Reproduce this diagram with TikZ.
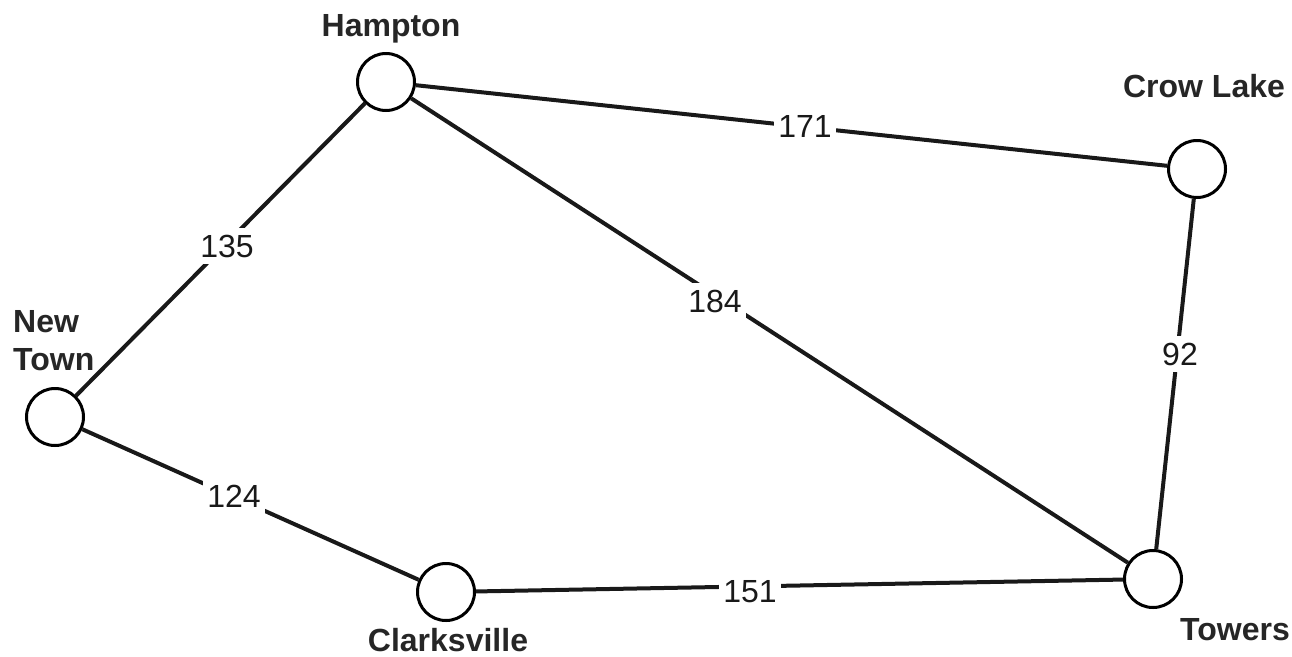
\documentclass[tikz,border=0pt]{standalone}
\usepackage{fontspec}
\setmainfont{Liberation Sans}
\begin{document}
\begin{tikzpicture}[x=1pt,y=-1pt,
  town/.style={circle,draw=black,line width=3pt,minimum size=57pt,inner sep=0pt,fill=white},
  road/.style={line width=4pt,draw=black!90},
  place/.style={font=\fontsize{32}{36}\selectfont\bfseries,text=black!85,inner sep=0pt,anchor=base},
  dist/.style={font=\fontsize{32}{36}\selectfont,text=black!90,fill=white,inner xsep=0pt,inner ysep=7pt,anchor=base,minimum width=62pt}]
\useasboundingbox[fill=white] (0,0) rectangle (1292,656);
\node[town] (ham) at (386,82) {};
\node[town] (crow) at (1197,169) {};
\node[town] (new) at (55,417) {};
\node[town] (clk) at (446,592) {};
\node[town] (tow) at (1153,579) {};
\draw[road] (ham) -- (crow);
\draw[road] (ham) -- (new);
\draw[road] (ham) -- (tow);
\draw[road] (crow) -- (tow);
\draw[road] (new) -- (clk);
\draw[road] (clk) -- (tow);
\node[dist] (d171) at (805,137) {171};
\node[dist] (d135) at (227,257) {135};
\node[dist] (d184) at (715,312) {184};
\node[dist,minimum width=44pt] (d92) at (1180,365) {92};
\node[dist] (d124) at (234,507) {124};
\node[dist] (d151) at (750,602) {151};
\node[place] (lham) at (391,36) {Hampton};
\node[place] (lcrow) at (1204,97) {Crow Lake};
\node[place,anchor=base west] (lnew1) at (13,332) {New};
\node[place,anchor=base west] (lnew2) at (13,370) {Town};
\node[place] (lclk) at (448,651) {Clarksville};
\node[place] (ltow) at (1235,640) {Towers};
\end{tikzpicture}
\end{document}
